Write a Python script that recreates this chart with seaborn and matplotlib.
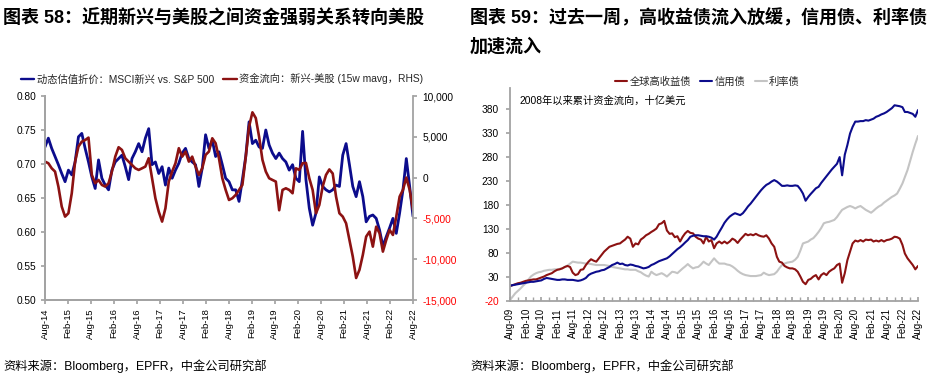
import numpy as np
import pandas as pd
import seaborn as sns
import matplotlib.pyplot as plt
import matplotlib.dates as mdates
from matplotlib.lines import Line2D

sns.set_theme(style='white')
plt.rcParams['font.family'] = ['Liberation Sans', 'Noto Sans CJK SC', 'DejaVu Sans']
plt.rcParams['axes.unicode_minus'] = False

# ---- chart 58: EM vs US valuation gap (LHS) and fund flow (RHS), Aug-14 .. Aug-22
valuation_gap = [
    0.725, 0.738, 0.723, 0.711, 0.699, 0.686, 0.674, 0.691, 0.684, 0.703, 0.740, 0.745, 0.723, 0.703, 0.681,
    0.664, 0.706, 0.679, 0.669, 0.662, 0.691, 0.703, 0.708, 0.713, 0.696, 0.677, 0.708, 0.718, 0.730,
    0.718, 0.738, 0.752, 0.699, 0.703, 0.686, 0.696, 0.669, 0.694, 0.679, 0.691, 0.701, 0.716, 0.723,
    0.708, 0.703, 0.699, 0.667, 0.694, 0.743, 0.723, 0.735, 0.711, 0.718, 0.699, 0.679, 0.674, 0.662,
    0.662, 0.645, 0.677, 0.711, 0.762, 0.730, 0.735, 0.725, 0.723, 0.750, 0.728, 0.716, 0.708, 0.716,
    0.708, 0.703, 0.691, 0.699, 0.679, 0.674, 0.748, 0.677, 0.635, 0.610, 0.628, 0.681, 0.667, 0.662, 0.659,
    0.662, 0.669, 0.667, 0.713, 0.730, 0.699, 0.667, 0.652, 0.674, 0.652, 0.615, 0.623, 0.625, 0.620,
    0.603, 0.579, 0.593, 0.606, 0.620, 0.598, 0.628, 0.662, 0.708, 0.667, 0.623,
]
fund_flow = [
    1960, 1760, 1140, 740, -1100, -3550, -4780, -4370, -1920, 1960, 3800, 4410, 4600, 4900, 330,
    -690, -290, -900, -1100, -690, 740, 2570, 3720, 3390, 2370, 1960, 1550, 1140, 940,
    1140, 1350, 2370, -80, -2530, -4170, -5390, -3760, -490, 740, 1760, 3600, 2570, 3190,
    1960, 2570, 1350, 330, 1140, 2780, 3190, 4820, 4210, 2370, -80, -1510, -2740, -2530,
    -2120, -1510, -900, 2500, 6250, 8000, 7300, 5000, 2170, 740, -80, -290, -490, -4000,
    -1510, -1310, -1510, -1920, 1140, 940, 1760, 1800, -80, -1510, -4370, -3350, -1100, 330, 1000,
    500, -2330, -4370, -4780, -5600, -7640, -9680, -12300, -11300, -9480, -7230, -6620, -8460, -6010,
    -6820, -9070, -7640, -6410, -7030, -4780, -2330, -1500, 0, -1500, -3960,
]

# ---- chart 59: cumulative flows since 2008, USD bn, monthly Aug-09 .. Aug-22
high_yield = [
    11, 13, 15, 17, 18, 20, 22, 23, 24, 25, 25, 27,
    29, 31, 34, 36, 38, 42, 45, 46, 48, 51, 53, 51,
    39, 34, 36, 45, 46, 55, 62, 67, 64, 62, 69, 76,
    83, 88, 93, 95, 97, 99, 100, 104, 108, 114, 110, 93,
    100, 98, 108, 112, 117, 120, 124, 127, 131, 140, 142, 147,
    127, 120, 121, 113, 115, 104, 114, 121, 126, 122, 121, 114,
    110, 108, 100, 114, 104, 107, 90, 100, 104, 100, 104, 100,
    104, 110, 107, 101, 108, 114, 120, 117, 119, 117, 120, 117,
    115, 114, 117, 110, 100, 93, 72, 62, 60, 53, 50, 48,
    48, 46, 41, 31, 20, 15, 24, 26, 31, 34, 25, 34,
    38, 34, 41, 45, 48, 55, 58, 18, 38, 65, 83, 100,
    106, 104, 107, 104, 108, 107, 108, 104, 106, 104, 107, 104,
    107, 108, 110, 114, 113, 110, 97, 79, 69, 62, 55, 46,
    53,
]
credit = [
    12, 13, 14, 15, 16, 17, 18, 19, 20, 20, 21, 22,
    23, 26, 28, 27, 26, 25, 24, 24, 25, 25, 24, 24,
    24, 23, 22, 23, 25, 28, 34, 37, 39, 41, 42, 44,
    45, 48, 51, 55, 57, 60, 57, 58, 55, 54, 56, 55,
    53, 52, 50, 48, 49, 51, 55, 57, 60, 63, 65, 67,
    69, 73, 78, 83, 88, 92, 97, 102, 107, 114, 116, 117,
    117, 116, 115, 115, 114, 112, 108, 114, 124, 133, 143, 150,
    156, 160, 163, 161, 159, 163, 170, 177, 183, 190, 197, 204,
    211, 217, 222, 225, 229, 232, 229, 225, 220, 220, 221, 220,
    220, 221, 220, 213, 204, 189, 197, 203, 209, 215, 218, 226,
    233, 240, 247, 254, 260, 266, 280, 242, 285, 305, 329, 343,
    354, 354, 355, 355, 357, 356, 358, 360, 364, 366, 369, 371,
    374, 378, 382, 388, 387, 386, 384, 374, 374, 372, 370, 364,
    378,
]
rates = [
    -18, -11, -4, 1, 6, 12, 17, 24, 31, 35, 38, 40,
    41, 43, 44, 45, 45, 46, 46, 47, 48, 51, 54, 58,
    62, 61, 60, 60, 59, 58, 58, 57, 56, 55, 55, 55,
    55, 54, 53, 51, 50, 49, 48, 47, 46, 46, 45, 45,
    45, 42, 40, 36, 33, 31, 41, 37, 34, 36, 38, 35,
    31, 36, 41, 40, 38, 43, 48, 52, 57, 52, 48, 50,
    51, 56, 62, 58, 55, 62, 69, 63, 58, 58, 58, 56,
    55, 52, 48, 43, 39, 36, 34, 33, 32, 32, 32, 33,
    34, 39, 36, 34, 35, 36, 41, 48, 55, 58, 60, 61,
    62, 66, 72, 85, 100, 102, 104, 108, 111, 117, 124, 132,
    142, 144, 145, 147, 149, 155, 163, 170, 173, 176, 178, 176,
    173, 176, 178, 174, 170, 167, 164, 168, 173, 177, 180, 185,
    189, 193, 197, 200, 204, 214, 225, 238, 253, 272, 291, 308,
    324,
]

NAVY = '#0c0c8c'
DARKRED = '#8c1212'
LIGHTGREY = '#c4c4c4'
AXCOL = '#a3a3a3'
W, H = 932, 385

fig = plt.figure(figsize=(W / 100, H / 100), dpi=100)


def style_axis(ax, spines):
    for name, sp in ax.spines.items():
        sp.set_visible(name in spines)
        sp.set_color(AXCOL)
        sp.set_linewidth(1.3)
    ax.set_xlabel('')
    ax.set_ylabel('')


# ---------------- left chart
d58 = pd.date_range('2014-08-01', '2022-08-01', periods=len(valuation_gap))
df58 = pd.DataFrame({'date': d58, 'gap': valuation_gap, 'flow': fund_flow})

ax1 = fig.add_axes([45 / W, 1 - 300 / H, 368 / W, 204 / H])
ax1r = ax1.twinx()
sns.lineplot(data=df58, x='date', y='gap', ax=ax1, color=NAVY, linewidth=2.0)
sns.lineplot(data=df58, x='date', y='flow', ax=ax1r, color=DARKRED, linewidth=1.9)

ax1.set_xlim(d58[0], d58[-1])
ax1.set_ylim(0.5, 0.8)
ax1.set_yticks(np.arange(0.5, 0.801, 0.05))
ax1.yaxis.set_major_formatter(plt.FormatStrFormatter('%.2f'))
ax1r.set_ylim(-15000, 10000)
flow_ticks = list(range(-15000, 10001, 5000))
ax1r.set_yticks(flow_ticks)
ax1r.set_yticklabels([f'{v:,}' for v in flow_ticks])
for lab, v in zip(ax1r.get_yticklabels(), flow_ticks):
    lab.set_color('red' if v < 0 else 'black')

ax1.set_xticks(pd.date_range('2014-08-01', '2022-08-01', freq='6MS'))
ax1.xaxis.set_major_formatter(mdates.DateFormatter('%b-%y'))
ax1.tick_params(axis='x', bottom=True, direction='out', length=3, color=AXCOL,
                labelsize=6.8, labelrotation=90, pad=3, labelcolor='black')
ax1.tick_params(axis='y', left=True, direction='out', length=3, color=AXCOL,
                labelsize=7.3, pad=3, labelcolor='black')
ax1r.tick_params(axis='y', right=True, direction='out', length=3, color=AXCOL,
                 labelsize=7.3, pad=4)
style_axis(ax1, ['left', 'bottom'])
style_axis(ax1r, ['right', 'left', 'bottom'])

fig.legend(handles=[Line2D([], [], color=NAVY, lw=1.7), Line2D([], [], color=DARKRED, lw=1.7)],
           labels=['动态估值折价：MSCI新兴 vs. S&P 500', '资金流向：新兴-美股 (15w mavg，RHS)'],
           loc='center left', bbox_to_anchor=(21 / W, 1 - 79 / H), ncol=2, frameon=False,
           fontsize=7.4, handlelength=1.3, handletextpad=0.25, columnspacing=0.9,
           borderpad=0, borderaxespad=0)

fig.text(3 / W, 1 - 18 / H, '图表 58：近期新兴与美股之间资金强弱关系转向美股',
         fontsize=13, fontweight='bold', va='center', ha='left', color='black')
fig.text(3 / W, 1 - 366 / H, '资料来源：Bloomberg，EPFR，中金公司研究部',
         fontsize=8.8, va='center', ha='left', color='black')

# ---------------- right chart
d59 = pd.date_range('2009-08-01', '2022-08-01', freq='MS')
df59 = pd.DataFrame({'date': d59, 'hy': high_yield, 'credit': credit, 'rates': rates})

ax2 = fig.add_axes([510 / W, 1 - 301 / H, 408 / W, 213 / H])
sns.lineplot(data=df59, x='date', y='rates', ax=ax2, color=LIGHTGREY, linewidth=1.5)
sns.lineplot(data=df59, x='date', y='hy', ax=ax2, color=DARKRED, linewidth=1.5)
sns.lineplot(data=df59, x='date', y='credit', ax=ax2, color=NAVY, linewidth=1.5)

ax2.set_xlim(d59[0], d59[-1])
ax2.set_ylim(-20, 424)
bond_ticks = list(range(-20, 381, 50))
ax2.set_yticks(bond_ticks)
ax2.set_yticklabels([str(v) for v in bond_ticks])
for lab, v in zip(ax2.get_yticklabels(), bond_ticks):
    lab.set_color('red' if v < 0 else 'black')
ax2.set_xticks(pd.date_range('2009-08-01', '2022-08-01', freq='6MS'))
ax2.set_xticks(pd.date_range('2009-08-01', '2022-08-01', freq='3MS'), minor=True)
ax2.xaxis.set_major_formatter(mdates.DateFormatter('%b-%y'))
ax2.tick_params(axis='x', which='both', bottom=True, direction='in', length=3, color=AXCOL,
                labelsize=6.9, labelrotation=90, pad=5, labelcolor='black')
ax2.tick_params(axis='y', left=True, direction='out', length=3, color=AXCOL,
                labelsize=7.3, pad=5)
style_axis(ax2, ['left', 'bottom'])

fig.legend(handles=[Line2D([], [], color=DARKRED, lw=1.5), Line2D([], [], color=NAVY, lw=1.5),
                    Line2D([], [], color=LIGHTGREY, lw=1.5)],
           labels=['全球高收益债', '信用债', '利率债'],
           loc='center left', bbox_to_anchor=(615 / W, 1 - 82 / H), ncol=3, frameon=False,
           fontsize=7.4, handlelength=1.2, handletextpad=0.2, columnspacing=0.9,
           borderpad=0, borderaxespad=0)

fig.text(520 / W, 1 - 101 / H, '2008年以来累计资金流向，十亿美元', fontsize=7.4,
         va='center', ha='left', color='black')
fig.text(470 / W, 1 - 18 / H, '图表 59：过去一周，高收益债流入放缓，信用债、利率债',
         fontsize=13, fontweight='bold', va='center', ha='left', color='black')
fig.text(470 / W, 1 - 47 / H, '加速流入',
         fontsize=13, fontweight='bold', va='center', ha='left', color='black')
fig.text(470 / W, 1 - 366 / H, '资料来源：Bloomberg，EPFR，中金公司研究部',
         fontsize=8.8, va='center', ha='left', color='black')

fig.savefig('out.png', dpi=100)
